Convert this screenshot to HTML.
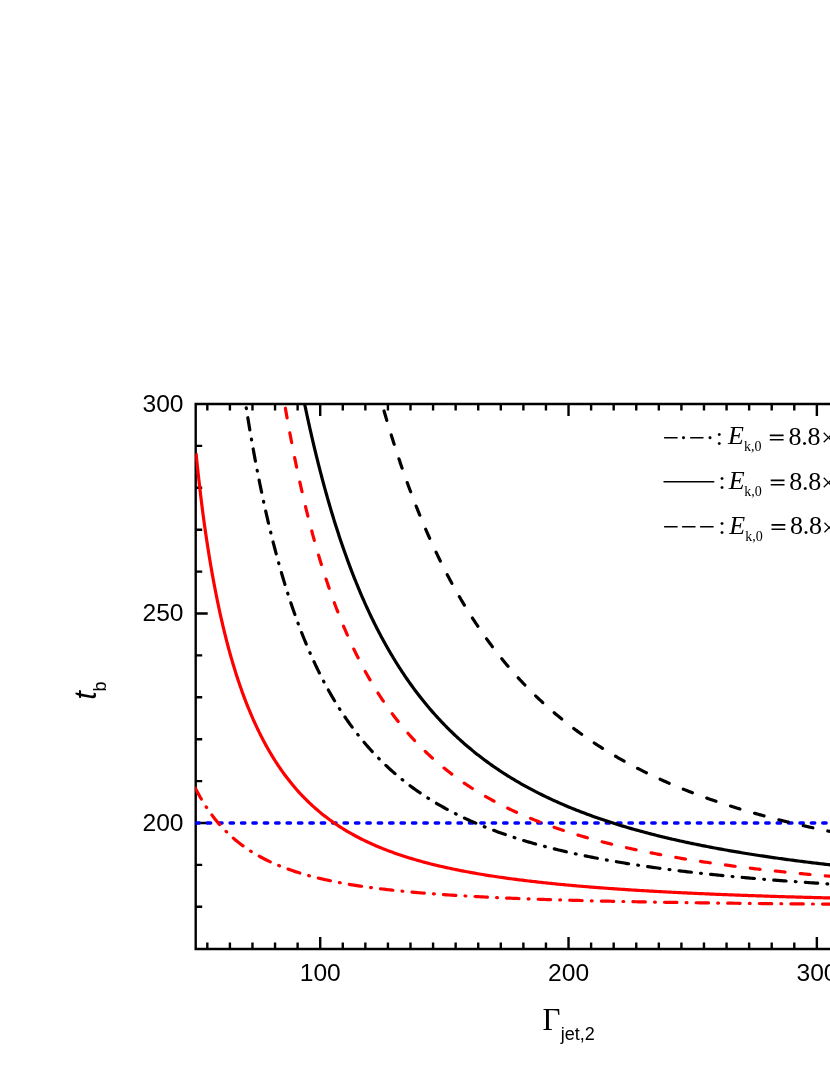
<!DOCTYPE html>
<html><head><meta charset="utf-8"><title>chart</title>
<style>
html,body{margin:0;padding:0;background:#fff;}
body{width:830px;height:1075px;overflow:hidden;position:relative;font-family:"Liberation Sans",sans-serif;}
svg{position:absolute;left:0;top:0;display:block;will-change:transform}
text{font-family:"Liberation Sans",sans-serif;fill:#000}
.ser{font-family:"Liberation Serif",serif}
</style></head><body>
<svg width="830" height="1075" viewBox="0 0 830 1075">
<defs><clipPath id="plot"><rect x="195.2" y="403" width="645" height="546"/></clipPath></defs>

<g stroke="#000" stroke-width="2.4" fill="none" stroke-linecap="butt">
<path d="M840 404 H195.7 V949 H840"/>
<path d="M207.32 404 v6.6 M207.32 949 v-6.6 M229.90 404 v6.6 M229.90 949 v-6.6 M252.47 404 v6.6 M252.47 949 v-6.6 M275.05 404 v6.6 M275.05 949 v-6.6 M297.62 404 v6.6 M297.62 949 v-6.6 M320.20 404 v12.0 M320.20 949 v-12.0 M342.78 404 v6.6 M342.78 949 v-6.6 M365.35 404 v6.6 M365.35 949 v-6.6 M387.93 404 v6.6 M387.93 949 v-6.6 M410.50 404 v6.6 M410.50 949 v-6.6 M433.08 404 v6.6 M433.08 949 v-6.6 M455.65 404 v6.6 M455.65 949 v-6.6 M478.23 404 v6.6 M478.23 949 v-6.6 M500.80 404 v6.6 M500.80 949 v-6.6 M523.38 404 v6.6 M523.38 949 v-6.6 M545.95 404 v6.6 M545.95 949 v-6.6 M568.53 404 v12.0 M568.53 949 v-12.0 M591.11 404 v6.6 M591.11 949 v-6.6 M613.68 404 v6.6 M613.68 949 v-6.6 M636.26 404 v6.6 M636.26 949 v-6.6 M658.83 404 v6.6 M658.83 949 v-6.6 M681.41 404 v6.6 M681.41 949 v-6.6 M703.98 404 v6.6 M703.98 949 v-6.6 M726.56 404 v6.6 M726.56 949 v-6.6 M749.13 404 v6.6 M749.13 949 v-6.6 M771.71 404 v6.6 M771.71 949 v-6.6 M794.28 404 v6.6 M794.28 949 v-6.6 M816.86 404 v12.0 M816.86 949 v-12.0 M839.44 404 v6.6 M839.44 949 v-6.6 M862.01 404 v6.6 M862.01 949 v-6.6 M195.7 906.80 h6.5 M195.7 864.90 h6.5 M195.7 823.00 h12.0 M195.7 781.10 h6.5 M195.7 739.20 h6.5 M195.7 697.30 h6.5 M195.7 655.40 h6.5 M195.7 613.50 h12.0 M195.7 571.60 h6.5 M195.7 529.70 h6.5 M195.7 487.80 h6.5 M195.7 445.90 h6.5" stroke-width="2.4"/>
</g>
<g clip-path="url(#plot)" fill="none" stroke-width="3.2" stroke-linejoin="round" stroke-linecap="round">
<path d="M196.1 823 H840" stroke="#0000ff" stroke-width="3.3" stroke-dasharray="3.5 7.897" stroke-dashoffset="0.25"/>
<path d="M194.75 787.05 L195.48 788.48 L196.22 789.90 L196.97 791.31 L197.73 792.73 L198.50 794.13 L199.28 795.53 L200.07 796.92 L200.87 798.31 L201.69 799.68 L202.51 801.06 L203.35 802.42 L204.20 803.78 L205.06 805.13 L205.94 806.47 L206.82 807.81 L207.72 809.13 L208.63 810.45 L209.55 811.76 L210.49 813.06 L211.43 814.35 L212.39 815.64 L213.37 816.91 L214.35 818.17 L215.35 819.42 L216.36 820.67 L217.38 821.90 L218.42 823.12 L219.47 824.33 L220.53 825.53 L221.61 826.72 L222.70 827.89 L223.80 829.05 L224.91 830.21 L226.04 831.35 L227.17 832.47 L228.33 833.59 L229.49 834.69 L230.66 835.77 L231.85 836.85 L233.05 837.91 L234.26 838.96 L235.49 839.99 L236.72 841.01 L237.97 842.02 L239.22 843.01 L240.49 843.99 L241.77 844.96 L243.06 845.91 L244.36 846.85 L245.67 847.77 L246.99 848.68 L248.31 849.57 L249.65 850.45 L251.00 851.32 L252.36 852.17 L253.72 853.01 L255.09 853.83 L256.47 854.65 L257.86 855.44 L259.26 856.23 L260.66 857.00 L262.08 857.76 L263.49 858.50 L264.92 859.23 L266.35 859.95 L267.79 860.65 L269.23 861.35 L270.68 862.03 L272.14 862.69 L273.60 863.35 L275.07 863.99 L276.54 864.63 L278.02 865.25 L279.50 865.86 L280.98 866.45 L282.47 867.04 L283.97 867.62 L285.47 868.18 L286.97 868.74 L288.48 869.28 L289.99 869.82 L291.50 870.34 L293.02 870.85 L294.54 871.36 L296.06 871.86 L297.59 872.34 L299.11 872.82 L300.65 873.29 L302.18 873.75 L303.72 874.20 L305.26 874.64 L306.80 875.08 L308.34 875.51 L309.89 875.92 L311.44 876.34 L312.99 876.74 L314.54 877.14 L316.09 877.53 L317.65 877.91 L319.20 878.29 L320.76 878.65 L322.32 879.02 L323.88 879.37 L325.45 879.72 L327.01 880.06 L328.58 880.40 L330.14 880.73 L331.71 881.06 L333.28 881.38 L334.85 881.69 L336.42 882.00 L338.00 882.30 L339.57 882.60 L341.15 882.90 L342.72 883.18 L344.30 883.47 L345.88 883.75 L347.45 884.02 L349.03 884.29 L350.61 884.55 L352.19 884.81 L353.77 885.07 L355.36 885.32 L356.94 885.57 L358.52 885.81 L360.11 886.05 L361.69 886.29 L363.27 886.52 L364.86 886.75 L366.45 886.97 L368.03 887.19 L369.62 887.41 L371.21 887.62 L372.79 887.83 L374.38 888.04 L375.97 888.24 L377.56 888.44 L379.15 888.64 L380.74 888.83 L382.33 889.03 L383.92 889.21 L385.51 889.40 L387.10 889.58 L388.70 889.76 L390.29 889.94 L391.88 890.12 L393.47 890.29 L395.06 890.46 L396.66 890.62 L398.25 890.79 L399.84 890.95 L401.44 891.11 L403.03 891.27 L404.63 891.42 L406.22 891.58 L407.82 891.73 L409.41 891.88 L411.01 892.02 L412.60 892.17 L414.20 892.31 L415.79 892.45 L417.39 892.59 L418.98 892.72 L420.58 892.86 L422.18 892.99 L423.77 893.12 L425.37 893.25 L426.97 893.38 L428.56 893.50 L430.16 893.63 L431.76 893.75 L433.35 893.87 L434.95 893.99 L436.55 894.11 L438.15 894.22 L439.74 894.34 L441.34 894.45 L442.94 894.56 L444.54 894.67 L446.13 894.78 L447.73 894.89 L449.33 894.99 L450.93 895.10 L452.53 895.20 L454.13 895.30 L455.73 895.40 L457.32 895.50 L458.92 895.60 L460.52 895.70 L462.12 895.79 L463.72 895.89 L465.32 895.98 L466.92 896.07 L468.52 896.16 L470.12 896.25 L471.72 896.34 L473.31 896.43 L474.91 896.51 L476.51 896.60 L478.11 896.68 L479.71 896.77 L481.31 896.85 L482.91 896.93 L484.51 897.01 L486.11 897.09 L487.71 897.17 L489.31 897.25 L490.91 897.32 L492.51 897.40 L494.11 897.47 L495.71 897.55 L497.31 897.62 L498.91 897.69 L500.51 897.77 L502.11 897.84 L503.71 897.91 L505.31 897.98 L506.91 898.04 L508.51 898.11 L510.11 898.18 L511.71 898.24 L513.31 898.31 L514.91 898.37 L516.51 898.44 L518.12 898.50 L519.72 898.56 L521.32 898.63 L522.92 898.69 L524.52 898.75 L526.12 898.81 L527.72 898.87 L529.32 898.93 L530.92 898.98 L532.52 899.04 L534.12 899.10 L535.72 899.15 L537.32 899.21 L538.92 899.27 L540.52 899.32 L542.13 899.37 L543.73 899.43 L545.33 899.48 L546.93 899.53 L548.53 899.58 L550.13 899.63 L551.73 899.69 L553.33 899.74 L554.93 899.79 L556.53 899.83 L558.14 899.88 L559.74 899.93 L561.34 899.98 L562.94 900.03 L564.54 900.07 L566.14 900.12 L567.74 900.16 L569.34 900.21 L570.94 900.25 L572.54 900.30 L574.15 900.34 L575.75 900.39 L577.35 900.43 L578.95 900.47 L580.55 900.51 L582.15 900.56 L583.75 900.60 L585.35 900.64 L586.96 900.68 L588.56 900.72 L590.16 900.76 L591.76 900.80 L593.36 900.84 L594.96 900.88 L596.56 900.92 L598.16 900.95 L599.77 900.99 L601.37 901.03 L602.97 901.07 L604.57 901.10 L606.17 901.14 L607.77 901.18 L609.37 901.21 L610.98 901.25 L612.58 901.28 L614.18 901.32 L615.78 901.35 L617.38 901.39 L618.98 901.42 L620.58 901.45 L622.18 901.49 L623.79 901.52 L625.39 901.55 L626.99 901.58 L628.59 901.62 L630.19 901.65 L631.79 901.68 L633.39 901.71 L635.00 901.74 L636.60 901.77 L638.20 901.80 L639.80 901.83 L641.40 901.86 L643.00 901.89 L644.61 901.92 L646.21 901.95 L647.81 901.98 L649.41 902.01 L651.01 902.04 L652.61 902.06 L654.21 902.09 L655.82 902.12 L657.42 902.15 L659.02 902.18 L660.62 902.20 L662.22 902.23 L663.82 902.26 L665.42 902.28 L667.03 902.31 L668.63 902.33 L670.23 902.36 L671.83 902.38 L673.43 902.41 L675.03 902.44 L676.64 902.46 L678.24 902.48 L679.84 902.51 L681.44 902.53 L683.04 902.56 L684.64 902.58 L686.24 902.60 L687.85 902.63 L689.45 902.65 L691.05 902.67 L692.65 902.70 L694.25 902.72 L695.85 902.74 L697.46 902.77 L699.06 902.79 L700.66 902.81 L702.26 902.83 L703.86 902.85 L705.46 902.87 L707.07 902.90 L708.67 902.92 L710.27 902.94 L711.87 902.96 L713.47 902.98 L715.07 903.00 L716.68 903.02 L718.28 903.04 L719.88 903.06 L721.48 903.08 L723.08 903.10 L724.68 903.12 L726.29 903.14 L727.89 903.16 L729.49 903.18 L731.09 903.20 L732.69 903.22 L734.29 903.24 L735.90 903.25 L737.50 903.27 L739.10 903.29 L740.70 903.31 L742.30 903.33 L743.90 903.35 L745.50 903.36 L747.11 903.38 L748.71 903.40 L750.31 903.42 L751.91 903.43 L753.51 903.45 L755.11 903.47 L756.72 903.48 L758.32 903.50 L759.92 903.52 L761.52 903.53 L763.12 903.55 L764.72 903.57 L766.33 903.58 L767.93 903.60 L769.53 903.62 L771.13 903.63 L772.73 903.65 L774.33 903.66 L775.94 903.68 L777.54 903.69 L779.14 903.71 L780.74 903.72 L782.34 903.74 L783.94 903.75 L785.55 903.77 L787.15 903.78 L788.75 903.80 L790.35 903.81 L791.95 903.83 L793.56 903.84 L795.16 903.86 L796.76 903.87 L798.36 903.88 L799.96 903.90 L801.56 903.91 L803.17 903.93 L804.77 903.94 L806.37 903.95 L807.97 903.97 L809.57 903.98 L811.17 903.99 L812.78 904.01 L814.38 904.02 L815.98 904.03 L817.58 904.05 L819.18 904.06 L820.78 904.07 L822.39 904.09 L823.99 904.10 L825.59 904.11 L827.19 904.12 L828.79 904.14 L830.39 904.15 L832.00 904.16 L833.60 904.17 L835.20 904.18 L836.00 904.19" stroke="#ff0000" stroke-dasharray="12.40 9.20 0.80 9.20" stroke-dashoffset="30.34"/>
<path d="M196.14 453.36 L196.28 454.95 L196.42 456.54 L196.57 458.14 L196.72 459.73 L196.87 461.32 L197.03 462.91 L197.19 464.51 L197.36 466.10 L197.53 467.69 L197.70 469.28 L197.87 470.87 L198.05 472.46 L198.22 474.05 L198.40 475.64 L198.58 477.23 L198.76 478.82 L198.94 480.41 L199.13 482.00 L199.31 483.59 L199.49 485.18 L199.68 486.77 L199.86 488.36 L200.04 489.95 L200.22 491.54 L200.41 493.13 L200.60 494.72 L200.78 496.30 L200.97 497.89 L201.17 499.48 L201.36 501.07 L201.55 502.66 L201.75 504.25 L201.95 505.83 L202.15 507.42 L202.35 509.01 L202.56 510.59 L202.77 512.18 L202.97 513.77 L203.18 515.35 L203.40 516.94 L203.61 518.53 L203.83 520.11 L204.04 521.70 L204.26 523.28 L204.48 524.87 L204.71 526.45 L204.93 528.03 L205.16 529.62 L205.38 531.20 L205.61 532.79 L205.85 534.37 L206.08 535.95 L206.31 537.53 L206.55 539.12 L206.79 540.70 L207.03 542.28 L207.27 543.86 L207.52 545.44 L207.76 547.02 L208.01 548.61 L208.26 550.19 L208.51 551.77 L208.76 553.35 L209.01 554.93 L209.27 556.51 L209.53 558.08 L209.79 559.66 L210.05 561.24 L210.32 562.82 L210.58 564.40 L210.85 565.97 L211.12 567.55 L211.40 569.13 L211.67 570.70 L211.95 572.28 L212.23 573.85 L212.52 575.43 L212.80 577.00 L213.09 578.58 L213.38 580.15 L213.68 581.72 L213.97 583.30 L214.27 584.87 L214.57 586.44 L214.87 588.01 L215.17 589.58 L215.48 591.15 L215.79 592.72 L216.10 594.29 L216.41 595.86 L216.72 597.43 L217.04 599.00 L217.36 600.57 L217.68 602.13 L218.01 603.70 L218.33 605.27 L218.66 606.83 L219.00 608.40 L219.33 609.96 L219.67 611.53 L220.01 613.09 L220.36 614.65 L220.70 616.21 L221.06 617.77 L221.41 619.33 L221.77 620.89 L222.13 622.45 L222.49 624.01 L222.86 625.57 L223.23 627.12 L223.60 628.68 L223.98 630.24 L224.35 631.79 L224.74 633.34 L225.12 634.90 L225.51 636.45 L225.90 638.00 L226.30 639.55 L226.69 641.10 L227.10 642.65 L227.50 644.20 L227.91 645.74 L228.32 647.29 L228.74 648.84 L229.16 650.38 L229.58 651.92 L230.01 653.46 L230.44 655.00 L230.88 656.54 L231.32 658.08 L231.77 659.62 L232.22 661.15 L232.67 662.69 L233.12 664.22 L233.59 665.75 L234.05 667.29 L234.52 668.82 L234.99 670.34 L235.47 671.87 L235.95 673.40 L236.43 674.92 L236.92 676.45 L237.42 677.97 L237.91 679.49 L238.42 681.01 L238.93 682.52 L239.44 684.04 L239.96 685.55 L240.48 687.07 L241.01 688.58 L241.54 690.08 L242.08 691.59 L242.63 693.10 L243.18 694.60 L243.73 696.10 L244.29 697.60 L244.86 699.09 L245.44 700.59 L246.01 702.08 L246.60 703.57 L247.19 705.05 L247.78 706.54 L248.38 708.02 L248.99 709.50 L249.60 710.98 L250.22 712.46 L250.84 713.93 L251.47 715.40 L252.10 716.87 L252.74 718.34 L253.39 719.80 L254.04 721.26 L254.70 722.72 L255.37 724.18 L256.04 725.63 L256.72 727.08 L257.40 728.52 L258.09 729.97 L258.79 731.41 L259.49 732.84 L260.21 734.28 L260.92 735.71 L261.65 737.13 L262.38 738.56 L263.12 739.97 L263.87 741.39 L264.62 742.80 L265.38 744.21 L266.15 745.61 L266.93 747.01 L267.71 748.41 L268.50 749.80 L269.30 751.18 L270.10 752.57 L270.92 753.94 L271.74 755.32 L272.57 756.68 L273.41 758.05 L274.26 759.40 L275.11 760.76 L275.97 762.10 L276.85 763.45 L277.73 764.78 L278.61 766.11 L279.51 767.44 L280.42 768.76 L281.33 770.07 L282.25 771.38 L283.18 772.68 L284.12 773.97 L285.07 775.26 L286.03 776.54 L287.00 777.82 L287.97 779.09 L288.96 780.35 L289.95 781.60 L290.95 782.85 L291.96 784.09 L292.98 785.32 L294.01 786.55 L295.05 787.76 L296.10 788.97 L297.16 790.18 L298.22 791.37 L299.30 792.55 L300.38 793.73 L301.47 794.90 L302.57 796.06 L303.69 797.21 L304.80 798.36 L305.93 799.49 L307.07 800.62 L308.22 801.73 L309.37 802.84 L310.53 803.94 L311.71 805.03 L312.89 806.11 L314.08 807.18 L315.27 808.24 L316.48 809.29 L317.69 810.33 L318.92 811.36 L320.15 812.39 L321.39 813.40 L322.63 814.40 L323.89 815.40 L325.15 816.38 L326.42 817.35 L327.70 818.32 L328.98 819.27 L330.27 820.21 L331.57 821.15 L332.88 822.07 L334.19 822.99 L335.51 823.89 L336.84 824.78 L338.17 825.67 L339.51 826.54 L340.86 827.41 L342.21 828.26 L343.57 829.10 L344.94 829.94 L346.31 830.76 L347.69 831.58 L349.07 832.38 L350.46 833.18 L351.85 833.96 L353.25 834.74 L354.65 835.51 L356.06 836.26 L357.48 837.01 L358.90 837.75 L360.32 838.48 L361.75 839.20 L363.18 839.91 L364.62 840.61 L366.06 841.31 L367.51 841.99 L368.96 842.67 L370.41 843.33 L371.87 843.99 L373.33 844.64 L374.80 845.28 L376.27 845.92 L377.74 846.54 L379.22 847.16 L380.70 847.77 L382.18 848.37 L383.67 848.96 L385.16 849.55 L386.65 850.12 L388.14 850.69 L389.64 851.26 L391.14 851.81 L392.65 852.36 L394.15 852.90 L395.66 853.43 L397.17 853.96 L398.68 854.48 L400.20 854.99 L401.72 855.50 L403.24 855.99 L404.76 856.49 L406.29 856.97 L407.81 857.45 L409.34 857.93 L410.87 858.39 L412.40 858.85 L413.94 859.31 L415.47 859.76 L417.01 860.20 L418.55 860.64 L420.09 861.07 L421.63 861.50 L423.18 861.92 L424.72 862.33 L426.27 862.74 L427.81 863.15 L429.36 863.55 L430.91 863.94 L432.47 864.33 L434.02 864.71 L435.57 865.09 L437.13 865.47 L438.69 865.84 L440.24 866.20 L441.80 866.56 L443.36 866.92 L444.92 867.27 L446.49 867.62 L448.05 867.96 L449.61 868.30 L451.18 868.63 L452.74 868.97 L454.31 869.29 L455.88 869.61 L457.44 869.93 L459.01 870.25 L460.58 870.56 L462.15 870.86 L463.72 871.17 L465.30 871.47 L466.87 871.76 L468.44 872.05 L470.02 872.34 L471.59 872.63 L473.17 872.91 L474.74 873.19 L476.32 873.46 L477.89 873.73 L479.47 874.00 L481.05 874.27 L482.63 874.53 L484.21 874.79 L485.79 875.05 L487.37 875.30 L488.95 875.55 L490.53 875.80 L492.11 876.04 L493.69 876.28 L495.27 876.52 L496.85 876.76 L498.44 876.99 L500.02 877.22 L501.60 877.45 L503.19 877.68 L504.77 877.90 L506.36 878.12 L507.94 878.34 L509.53 878.56 L511.11 878.77 L512.70 878.98 L514.28 879.19 L515.87 879.40 L517.46 879.60 L519.05 879.80 L520.63 880.00 L522.22 880.20 L523.81 880.40 L525.40 880.59 L526.99 880.78 L528.57 880.97 L530.16 881.16 L531.75 881.35 L533.34 881.53 L534.93 881.71 L536.52 881.89 L538.11 882.07 L539.70 882.25 L541.29 882.42 L542.88 882.59 L544.47 882.76 L546.07 882.93 L547.66 883.10 L549.25 883.26 L550.84 883.43 L552.43 883.59 L554.02 883.75 L555.62 883.91 L557.21 884.07 L558.80 884.22 L560.39 884.38 L561.99 884.53 L563.58 884.68 L565.17 884.83 L566.76 884.98 L568.36 885.12 L569.95 885.27 L571.54 885.41 L573.14 885.56 L574.73 885.70 L576.33 885.84 L577.92 885.97 L579.51 886.11 L581.11 886.25 L582.70 886.38 L584.30 886.51 L585.89 886.65 L587.49 886.78 L589.08 886.91 L590.68 887.03 L592.27 887.16 L593.87 887.29 L595.46 887.41 L597.06 887.53 L598.65 887.66 L600.25 887.78 L601.84 887.90 L603.44 888.02 L605.03 888.14 L606.63 888.25 L608.23 888.37 L609.82 888.48 L611.42 888.60 L613.01 888.71 L614.61 888.82 L616.21 888.93 L617.80 889.04 L619.40 889.15 L620.99 889.26 L622.59 889.36 L624.19 889.47 L625.78 889.57 L627.38 889.68 L628.98 889.78 L630.57 889.88 L632.17 889.98 L633.77 890.08 L635.37 890.18 L636.96 890.28 L638.56 890.38 L640.16 890.48 L641.75 890.57 L643.35 890.67 L644.95 890.76 L646.55 890.86 L648.14 890.95 L649.74 891.04 L651.34 891.13 L652.93 891.22 L654.53 891.31 L656.13 891.40 L657.73 891.49 L659.32 891.58 L660.92 891.67 L662.52 891.75 L664.12 891.84 L665.72 891.92 L667.31 892.01 L668.91 892.09 L670.51 892.17 L672.11 892.25 L673.71 892.34 L675.30 892.42 L676.90 892.50 L678.50 892.58 L680.10 892.65 L681.70 892.73 L683.29 892.81 L684.89 892.89 L686.49 892.96 L688.09 893.04 L689.69 893.11 L691.28 893.19 L692.88 893.26 L694.48 893.34 L696.08 893.41 L697.68 893.48 L699.28 893.55 L700.87 893.62 L702.47 893.69 L704.07 893.76 L705.67 893.83 L707.27 893.90 L708.87 893.97 L710.47 894.04 L712.06 894.11 L713.66 894.17 L715.26 894.24 L716.86 894.31 L718.46 894.37 L720.06 894.44 L721.66 894.50 L723.26 894.56 L724.85 894.63 L726.45 894.69 L728.05 894.75 L729.65 894.82 L731.25 894.88 L732.85 894.94 L734.45 895.00 L736.05 895.06 L737.64 895.12 L739.24 895.18 L740.84 895.24 L742.44 895.30 L744.04 895.35 L745.64 895.41 L747.24 895.47 L748.84 895.53 L750.44 895.58 L752.04 895.64 L753.63 895.70 L755.23 895.75 L756.83 895.81 L758.43 895.86 L760.03 895.91 L761.63 895.97 L763.23 896.02 L764.83 896.07 L766.43 896.13 L768.03 896.18 L769.63 896.23 L771.23 896.28 L772.82 896.33 L774.42 896.38 L776.02 896.44 L777.62 896.49 L779.22 896.54 L780.82 896.58 L782.42 896.63 L784.02 896.68 L785.62 896.73 L787.22 896.78 L788.82 896.83 L790.42 896.87 L792.02 896.92 L793.61 896.97 L795.21 897.02 L796.81 897.06 L798.41 897.11 L800.01 897.15 L801.61 897.20 L803.21 897.24 L804.81 897.29 L806.41 897.33 L808.01 897.38 L809.61 897.42 L811.21 897.46 L812.81 897.51 L814.41 897.55 L816.01 897.59 L817.61 897.64 L819.21 897.68 L820.80 897.72 L822.40 897.76 L824.00 897.80 L825.60 897.84 L827.20 897.89 L828.80 897.93 L830.40 897.97 L832.00 898.01 L833.60 898.05 L835.20 898.09 L836.00 898.11" stroke="#ff0000" stroke-linecap="butt"/>
<path d="M245.61 404.00 L245.86 405.58 L246.11 407.16 L246.36 408.74 L246.61 410.32 L246.86 411.90 L247.12 413.48 L247.37 415.06 L247.63 416.64 L247.89 418.22 L248.15 419.80 L248.41 421.38 L248.67 422.95 L248.93 424.53 L249.20 426.11 L249.46 427.69 L249.73 429.27 L250.00 430.84 L250.27 432.42 L250.54 434.00 L250.81 435.57 L251.08 437.15 L251.36 438.73 L251.64 440.30 L251.91 441.88 L252.19 443.45 L252.47 445.03 L252.75 446.60 L253.04 448.18 L253.32 449.75 L253.61 451.33 L253.90 452.90 L254.18 454.48 L254.48 456.05 L254.77 457.62 L255.06 459.20 L255.36 460.77 L255.65 462.34 L255.95 463.91 L256.25 465.48 L256.55 467.06 L256.85 468.63 L257.16 470.20 L257.46 471.77 L257.77 473.34 L258.08 474.91 L258.39 476.48 L258.70 478.05 L259.02 479.62 L259.33 481.19 L259.65 482.75 L259.97 484.32 L260.29 485.89 L260.61 487.46 L260.94 489.02 L261.26 490.59 L261.59 492.16 L261.92 493.72 L262.25 495.29 L262.58 496.85 L262.92 498.42 L263.26 499.98 L263.59 501.54 L263.93 503.11 L264.28 504.67 L264.62 506.23 L264.97 507.79 L265.32 509.36 L265.67 510.92 L266.02 512.48 L266.37 514.04 L266.73 515.60 L267.09 517.16 L267.45 518.72 L267.81 520.28 L268.17 521.83 L268.54 523.39 L268.91 524.95 L269.28 526.50 L269.65 528.06 L270.03 529.62 L270.41 531.17 L270.79 532.72 L271.17 534.28 L271.55 535.83 L271.94 537.38 L272.33 538.94 L272.72 540.49 L273.11 542.04 L273.51 543.59 L273.91 545.14 L274.31 546.69 L274.71 548.24 L275.12 549.78 L275.52 551.33 L275.94 552.88 L276.35 554.42 L276.76 555.97 L277.18 557.51 L277.60 559.06 L278.03 560.60 L278.45 562.14 L278.88 563.68 L279.31 565.22 L279.75 566.76 L280.18 568.30 L280.62 569.84 L281.07 571.38 L281.51 572.92 L281.96 574.45 L282.41 575.99 L282.86 577.52 L283.32 579.06 L283.78 580.59 L284.24 582.12 L284.71 583.65 L285.18 585.18 L285.65 586.71 L286.13 588.24 L286.60 589.76 L287.09 591.29 L287.57 592.81 L288.06 594.34 L288.55 595.86 L289.04 597.38 L289.54 598.90 L290.04 600.42 L290.55 601.94 L291.06 603.46 L291.57 604.97 L292.08 606.49 L292.60 608.00 L293.12 609.52 L293.65 611.03 L294.18 612.54 L294.71 614.05 L295.24 615.55 L295.78 617.06 L296.33 618.56 L296.88 620.07 L297.43 621.57 L297.98 623.07 L298.54 624.57 L299.11 626.07 L299.67 627.56 L300.24 629.06 L300.82 630.55 L301.40 632.04 L301.98 633.53 L302.57 635.02 L303.16 636.51 L303.76 637.99 L304.36 639.48 L304.96 640.96 L305.57 642.44 L306.18 643.91 L306.80 645.39 L307.42 646.87 L308.05 648.34 L308.68 649.81 L309.32 651.28 L309.96 652.74 L310.60 654.21 L311.25 655.67 L311.91 657.13 L312.57 658.59 L313.23 660.04 L313.90 661.50 L314.57 662.95 L315.25 664.40 L315.94 665.84 L316.62 667.29 L317.32 668.73 L318.02 670.17 L318.72 671.60 L319.43 673.04 L320.15 674.47 L320.87 675.90 L321.59 677.32 L322.32 678.75 L323.06 680.17 L323.80 681.59 L324.55 683.00 L325.30 684.41 L326.06 685.82 L326.83 687.23 L327.60 688.63 L328.37 690.03 L329.15 691.42 L329.94 692.82 L330.73 694.21 L331.53 695.59 L332.34 696.98 L333.15 698.36 L333.96 699.73 L334.79 701.10 L335.61 702.47 L336.45 703.84 L337.29 705.20 L338.14 706.56 L338.99 707.91 L339.85 709.26 L340.72 710.60 L341.59 711.95 L342.47 713.28 L343.35 714.62 L344.24 715.94 L345.14 717.27 L346.05 718.59 L346.96 719.90 L347.87 721.22 L348.80 722.52 L349.73 723.82 L350.67 725.12 L351.61 726.41 L352.56 727.70 L353.52 728.98 L354.48 730.26 L355.45 731.53 L356.43 732.80 L357.41 734.06 L358.40 735.32 L359.40 736.57 L360.40 737.82 L361.41 739.06 L362.43 740.29 L363.45 741.52 L364.48 742.75 L365.52 743.97 L366.56 745.18 L367.61 746.39 L368.67 747.59 L369.73 748.78 L370.80 749.97 L371.88 751.15 L372.97 752.33 L374.06 753.50 L375.15 754.66 L376.26 755.82 L377.37 756.97 L378.49 758.12 L379.61 759.26 L380.74 760.39 L381.88 761.52 L383.02 762.64 L384.17 763.75 L385.33 764.85 L386.49 765.95 L387.66 767.04 L388.84 768.13 L390.02 769.21 L391.21 770.28 L392.40 771.34 L393.60 772.40 L394.81 773.45 L396.02 774.50 L397.24 775.53 L398.47 776.56 L399.70 777.58 L400.93 778.60 L402.18 779.61 L403.42 780.61 L404.68 781.60 L405.94 782.59 L407.20 783.57 L408.48 784.54 L409.75 785.50 L411.03 786.46 L412.32 787.41 L413.62 788.35 L414.91 789.29 L416.22 790.21 L417.53 791.13 L418.84 792.05 L420.16 792.95 L421.48 793.85 L422.81 794.74 L424.15 795.63 L425.48 796.50 L426.83 797.37 L428.18 798.23 L429.53 799.09 L430.89 799.94 L432.25 800.78 L433.61 801.61 L434.98 802.44 L436.36 803.26 L437.74 804.07 L439.12 804.87 L440.51 805.67 L441.90 806.46 L443.29 807.24 L444.69 808.02 L446.09 808.79 L447.50 809.55 L448.91 810.31 L450.33 811.06 L451.74 811.80 L453.16 812.53 L454.59 813.26 L456.02 813.98 L457.45 814.70 L458.88 815.41 L460.32 816.11 L461.76 816.81 L463.21 817.49 L464.65 818.18 L466.10 818.85 L467.56 819.52 L469.01 820.19 L470.47 820.84 L471.93 821.49 L473.40 822.14 L474.86 822.78 L476.33 823.41 L477.81 824.04 L479.28 824.66 L480.76 825.27 L482.24 825.88 L483.72 826.48 L485.20 827.08 L486.69 827.67 L488.18 828.26 L489.67 828.84 L491.16 829.41 L492.66 829.98 L494.16 830.55 L495.66 831.11 L497.16 831.66 L498.66 832.21 L500.17 832.75 L501.67 833.29 L503.18 833.82 L504.69 834.34 L506.21 834.87 L507.72 835.38 L509.24 835.89 L510.75 836.40 L512.27 836.90 L513.79 837.40 L515.32 837.89 L516.84 838.38 L518.37 838.86 L519.89 839.34 L521.42 839.82 L522.95 840.29 L524.48 840.75 L526.01 841.21 L527.55 841.67 L529.08 842.12 L530.62 842.56 L532.16 843.01 L533.70 843.45 L535.23 843.88 L536.78 844.31 L538.32 844.74 L539.86 845.16 L541.41 845.58 L542.95 845.99 L544.50 846.40 L546.05 846.81 L547.59 847.21 L549.14 847.61 L550.69 848.01 L552.24 848.40 L553.80 848.79 L555.35 849.17 L556.90 849.55 L558.46 849.93 L560.02 850.30 L561.57 850.67 L563.13 851.04 L564.69 851.40 L566.25 851.76 L567.81 852.12 L569.37 852.47 L570.93 852.83 L572.49 853.17 L574.05 853.52 L575.62 853.86 L577.18 854.19 L578.74 854.53 L580.31 854.86 L581.88 855.19 L583.44 855.52 L585.01 855.84 L586.58 856.16 L588.15 856.47 L589.71 856.79 L591.28 857.10 L592.85 857.41 L594.42 857.71 L596.00 858.02 L597.57 858.32 L599.14 858.62 L600.71 858.91 L602.28 859.20 L603.86 859.49 L605.43 859.78 L607.01 860.06 L608.58 860.35 L610.16 860.63 L611.73 860.90 L613.31 861.18 L614.89 861.45 L616.46 861.72 L618.04 861.99 L619.62 862.26 L621.20 862.52 L622.77 862.78 L624.35 863.04 L625.93 863.30 L627.51 863.55 L629.09 863.80 L630.67 864.05 L632.25 864.30 L633.83 864.55 L635.42 864.79 L637.00 865.03 L638.58 865.27 L640.16 865.51 L641.74 865.75 L643.33 865.98 L644.91 866.21 L646.49 866.44 L648.08 866.67 L649.66 866.90 L651.25 867.12 L652.83 867.34 L654.42 867.57 L656.00 867.78 L657.59 868.00 L659.17 868.22 L660.76 868.43 L662.34 868.64 L663.93 868.85 L665.51 869.06 L667.10 869.27 L668.69 869.47 L670.28 869.68 L671.86 869.88 L673.45 870.08 L675.04 870.28 L676.63 870.48 L678.21 870.67 L679.80 870.87 L681.39 871.06 L682.98 871.25 L684.57 871.44 L686.16 871.63 L687.75 871.81 L689.33 872.00 L690.92 872.18 L692.51 872.36 L694.10 872.55 L695.69 872.72 L697.28 872.90 L698.87 873.08 L700.46 873.26 L702.05 873.43 L703.65 873.60 L705.24 873.77 L706.83 873.94 L708.42 874.11 L710.01 874.28 L711.60 874.45 L713.19 874.61 L714.78 874.78 L716.38 874.94 L717.97 875.10 L719.56 875.26 L721.15 875.42 L722.74 875.58 L724.34 875.73 L725.93 875.89 L727.52 876.04 L729.11 876.20 L730.71 876.35 L732.30 876.50 L733.89 876.65 L735.49 876.80 L737.08 876.95 L738.67 877.09 L740.27 877.24 L741.86 877.38 L743.45 877.53 L745.05 877.67 L746.64 877.81 L748.23 877.95 L749.83 878.09 L751.42 878.23 L753.02 878.37 L754.61 878.50 L756.20 878.64 L757.80 878.77 L759.39 878.91 L760.99 879.04 L762.58 879.17 L764.18 879.30 L765.77 879.43 L767.37 879.56 L768.96 879.69 L770.56 879.82 L772.15 879.94 L773.75 880.07 L775.34 880.19 L776.94 880.32 L778.53 880.44 L780.13 880.56 L781.72 880.68 L783.32 880.80 L784.91 880.92 L786.51 881.04 L788.11 881.16 L789.70 881.28 L791.30 881.39 L792.89 881.51 L794.49 881.62 L796.09 881.74 L797.68 881.85 L799.28 881.97 L800.87 882.08 L802.47 882.19 L804.07 882.30 L805.66 882.41 L807.26 882.52 L808.85 882.63 L810.45 882.73 L812.05 882.84 L813.64 882.95 L815.24 883.05 L816.84 883.16 L818.43 883.26 L820.03 883.36 L821.63 883.47 L823.22 883.57 L824.82 883.67 L826.42 883.77 L828.01 883.87 L829.61 883.97 L831.21 884.07 L832.81 884.17 L834.40 884.26 L836.00 884.36" stroke="#000" stroke-dasharray="12.40 9.25 0.80 9.25" stroke-dashoffset="17.80"/>
<path d="M284.65 404.00 L284.92 405.58 L285.19 407.15 L285.46 408.73 L285.73 410.31 L286.01 411.88 L286.29 413.46 L286.57 415.04 L286.85 416.61 L287.13 418.19 L287.41 419.76 L287.69 421.34 L287.98 422.91 L288.26 424.49 L288.55 426.06 L288.84 427.64 L289.13 429.21 L289.42 430.78 L289.72 432.36 L290.01 433.93 L290.31 435.50 L290.61 437.07 L290.91 438.65 L291.21 440.22 L291.51 441.79 L291.81 443.36 L292.12 444.93 L292.42 446.50 L292.73 448.07 L293.04 449.64 L293.35 451.21 L293.67 452.78 L293.98 454.35 L294.30 455.92 L294.62 457.49 L294.94 459.06 L295.26 460.62 L295.58 462.19 L295.91 463.76 L296.23 465.32 L296.56 466.89 L296.89 468.46 L297.22 470.02 L297.56 471.59 L297.89 473.15 L298.23 474.72 L298.57 476.28 L298.91 477.84 L299.25 479.41 L299.59 480.97 L299.94 482.53 L300.29 484.10 L300.64 485.66 L300.99 487.22 L301.34 488.78 L301.70 490.34 L302.06 491.90 L302.42 493.46 L302.78 495.02 L303.14 496.58 L303.51 498.13 L303.88 499.69 L304.24 501.25 L304.62 502.80 L304.99 504.36 L305.37 505.92 L305.74 507.47 L306.12 509.03 L306.51 510.58 L306.89 512.13 L307.28 513.69 L307.67 515.24 L308.06 516.79 L308.45 518.34 L308.85 519.89 L309.25 521.44 L309.65 522.99 L310.05 524.54 L310.45 526.09 L310.86 527.64 L311.27 529.18 L311.68 530.73 L312.10 532.28 L312.51 533.82 L312.93 535.36 L313.36 536.91 L313.78 538.45 L314.21 539.99 L314.64 541.54 L315.07 543.08 L315.51 544.62 L315.94 546.16 L316.38 547.69 L316.83 549.23 L317.27 550.77 L317.72 552.31 L318.17 553.84 L318.62 555.38 L319.08 556.91 L319.54 558.44 L320.00 559.97 L320.47 561.51 L320.94 563.04 L321.41 564.57 L321.88 566.09 L322.36 567.62 L322.84 569.15 L323.32 570.67 L323.81 572.20 L324.30 573.72 L324.79 575.24 L325.29 576.77 L325.79 578.29 L326.29 579.81 L326.79 581.32 L327.30 582.84 L327.81 584.36 L328.33 585.87 L328.85 587.39 L329.37 588.90 L329.89 590.41 L330.42 591.92 L330.95 593.43 L331.49 594.94 L332.03 596.45 L332.57 597.95 L333.12 599.46 L333.67 600.96 L334.22 602.46 L334.78 603.96 L335.34 605.46 L335.91 606.96 L336.47 608.45 L337.05 609.95 L337.62 611.44 L338.20 612.93 L338.79 614.42 L339.38 615.91 L339.97 617.40 L340.56 618.88 L341.16 620.36 L341.77 621.85 L342.38 623.33 L342.99 624.81 L343.61 626.28 L344.23 627.76 L344.85 629.23 L345.48 630.70 L346.12 632.17 L346.76 633.64 L347.40 635.10 L348.05 636.57 L348.70 638.03 L349.36 639.49 L350.02 640.94 L350.68 642.40 L351.35 643.85 L352.03 645.30 L352.71 646.75 L353.39 648.20 L354.08 649.64 L354.78 651.09 L355.47 652.53 L356.18 653.96 L356.89 655.40 L357.60 656.83 L358.32 658.26 L359.04 659.69 L359.77 661.11 L360.51 662.53 L361.25 663.95 L361.99 665.37 L362.74 666.78 L363.50 668.19 L364.26 669.60 L365.02 671.01 L365.79 672.41 L366.57 673.81 L367.35 675.20 L368.14 676.60 L368.93 677.99 L369.73 679.37 L370.54 680.76 L371.35 682.14 L372.16 683.52 L372.98 684.89 L373.81 686.26 L374.64 687.63 L375.48 688.99 L376.33 690.35 L377.18 691.70 L378.03 693.06 L378.89 694.40 L379.76 695.75 L380.64 697.09 L381.52 698.43 L382.40 699.76 L383.29 701.09 L384.19 702.41 L385.10 703.73 L386.01 705.05 L386.92 706.36 L387.85 707.67 L388.77 708.97 L389.71 710.27 L390.65 711.57 L391.60 712.85 L392.55 714.14 L393.51 715.42 L394.48 716.70 L395.45 717.97 L396.43 719.23 L397.41 720.50 L398.40 721.75 L399.40 723.00 L400.41 724.25 L401.42 725.49 L402.43 726.73 L403.46 727.96 L404.48 729.18 L405.52 730.40 L406.56 731.62 L407.61 732.83 L408.66 734.03 L409.73 735.23 L410.79 736.42 L411.87 737.61 L412.95 738.79 L414.03 739.96 L415.12 741.13 L416.22 742.30 L417.33 743.46 L418.44 744.61 L419.56 745.75 L420.68 746.89 L421.81 748.03 L422.95 749.15 L424.09 750.27 L425.23 751.39 L426.39 752.50 L427.55 753.60 L428.71 754.70 L429.89 755.79 L431.06 756.87 L432.25 757.95 L433.44 759.02 L434.63 760.08 L435.83 761.14 L437.04 762.19 L438.25 763.23 L439.47 764.27 L440.70 765.30 L441.93 766.33 L443.16 767.34 L444.40 768.36 L445.65 769.36 L446.90 770.36 L448.16 771.35 L449.42 772.33 L450.69 773.31 L451.96 774.28 L453.24 775.24 L454.52 776.20 L455.81 777.15 L457.10 778.09 L458.40 779.03 L459.70 779.96 L461.01 780.88 L462.32 781.79 L463.64 782.70 L464.96 783.61 L466.29 784.50 L467.62 785.39 L468.95 786.27 L470.29 787.15 L471.64 788.01 L472.99 788.88 L474.34 789.73 L475.70 790.58 L477.06 791.42 L478.42 792.25 L479.79 793.08 L481.17 793.90 L482.55 794.72 L483.93 795.52 L485.31 796.33 L486.70 797.12 L488.09 797.91 L489.49 798.69 L490.89 799.47 L492.29 800.24 L493.70 801.00 L495.11 801.75 L496.53 802.50 L497.94 803.25 L499.36 803.98 L500.79 804.71 L502.21 805.44 L503.64 806.16 L505.08 806.87 L506.51 807.58 L507.95 808.28 L509.39 808.97 L510.84 809.66 L512.29 810.34 L513.74 811.02 L515.19 811.69 L516.65 812.35 L518.10 813.01 L519.57 813.66 L521.03 814.31 L522.50 814.95 L523.96 815.59 L525.43 816.22 L526.91 816.84 L528.38 817.46 L529.86 818.08 L531.34 818.68 L532.82 819.29 L534.31 819.88 L535.80 820.48 L537.28 821.06 L538.77 821.65 L540.27 822.22 L541.76 822.80 L543.26 823.36 L544.76 823.92 L546.26 824.48 L547.76 825.03 L549.26 825.58 L550.77 826.12 L552.28 826.66 L553.79 827.19 L555.30 827.72 L556.81 828.24 L558.32 828.76 L559.84 829.27 L561.36 829.78 L562.88 830.29 L564.40 830.79 L565.92 831.28 L567.44 831.78 L568.96 832.26 L570.49 832.75 L572.02 833.22 L573.55 833.70 L575.08 834.17 L576.61 834.63 L578.14 835.10 L579.67 835.55 L581.21 836.01 L582.74 836.46 L584.28 836.90 L585.82 837.35 L587.36 837.79 L588.90 838.22 L590.44 838.65 L591.98 839.08 L593.52 839.50 L595.07 839.92 L596.61 840.34 L598.16 840.75 L599.71 841.16 L601.25 841.56 L602.80 841.97 L604.35 842.36 L605.90 842.76 L607.46 843.15 L609.01 843.54 L610.56 843.92 L612.12 844.30 L613.67 844.68 L615.23 845.06 L616.78 845.43 L618.34 845.80 L619.90 846.17 L621.46 846.53 L623.02 846.89 L624.58 847.24 L626.14 847.60 L627.70 847.95 L629.26 848.30 L630.82 848.64 L632.39 848.98 L633.95 849.32 L635.52 849.66 L637.08 849.99 L638.65 850.32 L640.21 850.65 L641.78 850.98 L643.35 851.30 L644.92 851.62 L646.48 851.94 L648.05 852.25 L649.62 852.56 L651.19 852.87 L652.76 853.18 L654.33 853.48 L655.91 853.79 L657.48 854.09 L659.05 854.38 L660.62 854.68 L662.20 854.97 L663.77 855.26 L665.34 855.55 L666.92 855.83 L668.49 856.12 L670.07 856.40 L671.65 856.68 L673.22 856.96 L674.80 857.23 L676.38 857.50 L677.95 857.77 L679.53 858.04 L681.11 858.31 L682.69 858.57 L684.27 858.83 L685.84 859.09 L687.42 859.35 L689.00 859.61 L690.58 859.86 L692.16 860.11 L693.75 860.36 L695.33 860.61 L696.91 860.86 L698.49 861.10 L700.07 861.34 L701.65 861.58 L703.24 861.82 L704.82 862.06 L706.40 862.29 L707.98 862.53 L709.57 862.76 L711.15 862.99 L712.74 863.22 L714.32 863.44 L715.90 863.67 L717.49 863.89 L719.07 864.11 L720.66 864.33 L722.24 864.55 L723.83 864.77 L725.42 864.98 L727.00 865.20 L728.59 865.41 L730.17 865.62 L731.76 865.83 L733.35 866.04 L734.93 866.24 L736.52 866.45 L738.11 866.65 L739.70 866.85 L741.28 867.05 L742.87 867.25 L744.46 867.45 L746.05 867.64 L747.64 867.84 L749.23 868.03 L750.82 868.22 L752.40 868.41 L753.99 868.60 L755.58 868.79 L757.17 868.97 L758.76 869.16 L760.35 869.34 L761.94 869.52 L763.53 869.71 L765.12 869.88 L766.71 870.06 L768.30 870.24 L769.89 870.42 L771.48 870.59 L773.07 870.77 L774.67 870.94 L776.26 871.11 L777.85 871.28 L779.44 871.45 L781.03 871.62 L782.62 871.78 L784.21 871.95 L785.81 872.11 L787.40 872.28 L788.99 872.44 L790.58 872.60 L792.17 872.76 L793.77 872.92 L795.36 873.08 L796.95 873.23 L798.55 873.39 L800.14 873.54 L801.73 873.70 L803.32 873.85 L804.92 874.00 L806.51 874.15 L808.10 874.30 L809.70 874.45 L811.29 874.60 L812.88 874.75 L814.48 874.89 L816.07 875.04 L817.67 875.18 L819.26 875.33 L820.85 875.47 L822.45 875.61 L824.04 875.75 L825.64 875.89 L827.23 876.03 L828.82 876.17 L830.42 876.30 L832.01 876.44 L833.61 876.57 L835.20 876.71 L836.00 876.77" stroke="#ff0000" stroke-dasharray="9.80 15.31" stroke-dashoffset="20.82"/>
<path d="M304.63 404.00 L304.96 405.57 L305.29 407.13 L305.62 408.70 L305.95 410.27 L306.28 411.83 L306.62 413.40 L306.95 414.97 L307.29 416.53 L307.63 418.10 L307.97 419.66 L308.32 421.23 L308.66 422.79 L309.01 424.35 L309.35 425.92 L309.70 427.48 L310.05 429.04 L310.41 430.60 L310.76 432.17 L311.12 433.73 L311.47 435.29 L311.83 436.85 L312.19 438.41 L312.56 439.97 L312.92 441.53 L313.29 443.09 L313.65 444.65 L314.02 446.20 L314.40 447.76 L314.77 449.32 L315.14 450.88 L315.52 452.43 L315.90 453.99 L316.28 455.54 L316.66 457.10 L317.05 458.65 L317.43 460.21 L317.82 461.76 L318.21 463.32 L318.60 464.87 L319.00 466.42 L319.39 467.97 L319.79 469.52 L320.19 471.07 L320.59 472.62 L321.00 474.17 L321.40 475.72 L321.81 477.27 L322.22 478.82 L322.64 480.37 L323.05 481.91 L323.47 483.46 L323.89 485.01 L324.31 486.55 L324.73 488.10 L325.15 489.64 L325.58 491.18 L326.01 492.72 L326.44 494.27 L326.88 495.81 L327.32 497.35 L327.75 498.89 L328.20 500.43 L328.64 501.97 L329.09 503.51 L329.53 505.04 L329.98 506.58 L330.44 508.12 L330.89 509.65 L331.35 511.19 L331.81 512.72 L332.27 514.25 L332.74 515.78 L333.21 517.32 L333.68 518.85 L334.15 520.38 L334.63 521.91 L335.11 523.43 L335.59 524.96 L336.07 526.49 L336.56 528.01 L337.05 529.54 L337.54 531.06 L338.03 532.59 L338.53 534.11 L339.03 535.63 L339.53 537.15 L340.04 538.67 L340.55 540.19 L341.06 541.71 L341.57 543.22 L342.09 544.74 L342.61 546.25 L343.13 547.77 L343.66 549.28 L344.19 550.79 L344.72 552.30 L345.26 553.81 L345.80 555.32 L346.34 556.83 L346.88 558.33 L347.43 559.84 L347.98 561.34 L348.53 562.84 L349.09 564.34 L349.65 565.84 L350.22 567.34 L350.78 568.84 L351.35 570.34 L351.93 571.83 L352.50 573.33 L353.09 574.82 L353.67 576.31 L354.26 577.80 L354.85 579.29 L355.44 580.77 L356.04 582.26 L356.64 583.74 L357.25 585.23 L357.86 586.71 L358.47 588.19 L359.09 589.66 L359.71 591.14 L360.33 592.62 L360.96 594.09 L361.59 595.56 L362.22 597.03 L362.86 598.50 L363.51 599.97 L364.15 601.43 L364.80 602.89 L365.46 604.36 L366.12 605.82 L366.78 607.27 L367.45 608.73 L368.12 610.18 L368.79 611.64 L369.47 613.09 L370.16 614.53 L370.84 615.98 L371.54 617.43 L372.23 618.87 L372.93 620.31 L373.64 621.75 L374.35 623.18 L375.06 624.62 L375.78 626.05 L376.50 627.48 L377.23 628.90 L377.96 630.33 L378.69 631.75 L379.43 633.17 L380.18 634.59 L380.93 636.00 L381.68 637.42 L382.44 638.83 L383.20 640.23 L383.97 641.64 L384.74 643.04 L385.52 644.44 L386.30 645.84 L387.09 647.23 L387.88 648.63 L388.68 650.01 L389.48 651.40 L390.29 652.78 L391.10 654.16 L391.92 655.54 L392.74 656.92 L393.57 658.29 L394.40 659.66 L395.24 661.02 L396.08 662.38 L396.93 663.74 L397.78 665.10 L398.64 666.45 L399.50 667.80 L400.37 669.14 L401.24 670.49 L402.12 671.83 L403.01 673.16 L403.89 674.49 L404.79 675.82 L405.69 677.15 L406.60 678.47 L407.51 679.78 L408.42 681.10 L409.34 682.41 L410.27 683.71 L411.20 685.01 L412.14 686.31 L413.09 687.61 L414.03 688.90 L414.99 690.18 L415.95 691.46 L416.92 692.74 L417.89 694.01 L418.86 695.28 L419.85 696.55 L420.83 697.81 L421.83 699.06 L422.83 700.32 L423.83 701.56 L424.84 702.81 L425.86 704.04 L426.88 705.28 L427.91 706.51 L428.94 707.73 L429.98 708.95 L431.02 710.16 L432.07 711.37 L433.12 712.58 L434.19 713.78 L435.25 714.97 L436.32 716.16 L437.40 717.35 L438.48 718.53 L439.57 719.70 L440.67 720.87 L441.77 722.03 L442.87 723.19 L443.98 724.35 L445.10 725.50 L446.22 726.64 L447.35 727.78 L448.48 728.91 L449.62 730.03 L450.76 731.16 L451.91 732.27 L453.06 733.38 L454.22 734.49 L455.39 735.59 L456.56 736.68 L457.73 737.77 L458.92 738.85 L460.10 739.92 L461.29 740.99 L462.49 742.06 L463.69 743.12 L464.90 744.17 L466.11 745.22 L467.33 746.26 L468.55 747.29 L469.77 748.32 L471.01 749.35 L472.24 750.37 L473.48 751.38 L474.73 752.38 L475.98 753.38 L477.24 754.38 L478.50 755.36 L479.76 756.34 L481.03 757.32 L482.31 758.29 L483.59 759.25 L484.87 760.21 L486.16 761.16 L487.45 762.11 L488.75 763.05 L490.05 763.98 L491.36 764.91 L492.67 765.83 L493.98 766.74 L495.30 767.65 L496.62 768.55 L497.95 769.45 L499.28 770.34 L500.61 771.22 L501.95 772.10 L503.30 772.98 L504.64 773.84 L505.99 774.70 L507.35 775.56 L508.71 776.41 L510.07 777.25 L511.43 778.08 L512.80 778.91 L514.18 779.74 L515.55 780.56 L516.93 781.37 L518.32 782.18 L519.70 782.98 L521.09 783.77 L522.49 784.56 L523.88 785.35 L525.28 786.12 L526.69 786.90 L528.09 787.66 L529.50 788.42 L530.91 789.18 L532.33 789.93 L533.75 790.67 L535.17 791.41 L536.59 792.14 L538.02 792.87 L539.45 793.59 L540.88 794.30 L542.32 795.01 L543.76 795.72 L545.20 796.42 L546.64 797.11 L548.09 797.80 L549.54 798.48 L550.99 799.16 L552.44 799.83 L553.89 800.50 L555.35 801.16 L556.81 801.82 L558.28 802.47 L559.74 803.12 L561.21 803.76 L562.68 804.40 L564.15 805.03 L565.62 805.66 L567.10 806.28 L568.58 806.90 L570.06 807.51 L571.54 808.11 L573.02 808.72 L574.51 809.31 L576.00 809.91 L577.49 810.50 L578.98 811.08 L580.47 811.66 L581.96 812.23 L583.46 812.80 L584.96 813.37 L586.46 813.93 L587.96 814.49 L589.46 815.04 L590.97 815.58 L592.48 816.13 L593.98 816.67 L595.49 817.20 L597.00 817.73 L598.52 818.26 L600.03 818.78 L601.55 819.30 L603.06 819.81 L604.58 820.32 L606.10 820.83 L607.62 821.33 L609.14 821.83 L610.67 822.32 L612.19 822.81 L613.72 823.29 L615.25 823.78 L616.77 824.26 L618.30 824.73 L619.83 825.20 L621.37 825.67 L622.90 826.13 L624.43 826.59 L625.97 827.05 L627.50 827.50 L629.04 827.95 L630.58 828.39 L632.12 828.84 L633.66 829.27 L635.20 829.71 L636.74 830.14 L638.29 830.57 L639.83 830.99 L641.37 831.41 L642.92 831.83 L644.47 832.25 L646.01 832.66 L647.56 833.07 L649.11 833.47 L650.66 833.88 L652.21 834.28 L653.76 834.67 L655.32 835.07 L656.87 835.46 L658.42 835.84 L659.98 836.23 L661.53 836.61 L663.09 836.99 L664.65 837.36 L666.21 837.73 L667.76 838.10 L669.32 838.47 L670.88 838.83 L672.44 839.20 L674.00 839.55 L675.56 839.91 L677.13 840.26 L678.69 840.61 L680.25 840.96 L681.82 841.31 L683.38 841.65 L684.94 841.99 L686.51 842.33 L688.08 842.66 L689.64 842.99 L691.21 843.32 L692.78 843.65 L694.35 843.98 L695.91 844.30 L697.48 844.62 L699.05 844.94 L700.62 845.25 L702.19 845.57 L703.76 845.88 L705.34 846.19 L706.91 846.49 L708.48 846.80 L710.05 847.10 L711.63 847.40 L713.20 847.70 L714.77 847.99 L716.35 848.29 L717.92 848.58 L719.50 848.87 L721.07 849.16 L722.65 849.44 L724.22 849.72 L725.80 850.00 L727.38 850.28 L728.96 850.56 L730.53 850.84 L732.11 851.11 L733.69 851.38 L735.27 851.65 L736.85 851.92 L738.43 852.18 L740.01 852.44 L741.59 852.71 L743.17 852.97 L744.75 853.22 L746.33 853.48 L747.91 853.74 L749.49 853.99 L751.07 854.24 L752.65 854.49 L754.24 854.74 L755.82 854.98 L757.40 855.23 L758.98 855.47 L760.57 855.71 L762.15 855.95 L763.73 856.19 L765.32 856.42 L766.90 856.66 L768.49 856.89 L770.07 857.12 L771.66 857.35 L773.24 857.58 L774.83 857.80 L776.41 858.03 L778.00 858.25 L779.58 858.47 L781.17 858.69 L782.76 858.91 L784.34 859.13 L785.93 859.35 L787.52 859.56 L789.10 859.77 L790.69 859.99 L792.28 860.20 L793.87 860.41 L795.45 860.61 L797.04 860.82 L798.63 861.02 L800.22 861.23 L801.81 861.43 L803.40 861.63 L804.99 861.83 L806.58 862.03 L808.16 862.23 L809.75 862.42 L811.34 862.62 L812.93 862.81 L814.52 863.00 L816.11 863.19 L817.70 863.38 L819.29 863.57 L820.88 863.76 L822.47 863.94 L824.07 864.13 L825.66 864.31 L827.25 864.49 L828.84 864.68 L830.43 864.86 L832.02 865.03 L833.61 865.21 L835.20 865.39 L836.00 865.48" stroke="#000" stroke-linecap="butt"/>
<path d="M382.08 404.00 L382.51 405.54 L382.95 407.08 L383.39 408.62 L383.83 410.16 L384.27 411.70 L384.72 413.24 L385.16 414.77 L385.61 416.31 L386.06 417.85 L386.52 419.38 L386.97 420.92 L387.43 422.45 L387.89 423.99 L388.35 425.52 L388.81 427.05 L389.28 428.58 L389.74 430.11 L390.21 431.65 L390.68 433.18 L391.16 434.71 L391.63 436.23 L392.11 437.76 L392.59 439.29 L393.07 440.82 L393.55 442.34 L394.04 443.87 L394.52 445.39 L395.01 446.92 L395.51 448.44 L396.00 449.97 L396.50 451.49 L397.00 453.01 L397.50 454.53 L398.00 456.05 L398.51 457.57 L399.01 459.09 L399.52 460.60 L400.04 462.12 L400.55 463.64 L401.07 465.15 L401.59 466.67 L402.11 468.18 L402.64 469.69 L403.16 471.20 L403.69 472.72 L404.22 474.23 L404.76 475.74 L405.29 477.24 L405.83 478.75 L406.37 480.26 L406.92 481.76 L407.46 483.27 L408.01 484.77 L408.57 486.28 L409.12 487.78 L409.68 489.28 L410.24 490.78 L410.80 492.28 L411.36 493.78 L411.93 495.27 L412.50 496.77 L413.07 498.26 L413.65 499.76 L414.23 501.25 L414.81 502.74 L415.39 504.23 L415.98 505.72 L416.57 507.21 L417.16 508.70 L417.76 510.19 L418.35 511.67 L418.96 513.15 L419.56 514.64 L420.17 516.12 L420.78 517.60 L421.39 519.08 L422.00 520.56 L422.62 522.03 L423.24 523.51 L423.87 524.98 L424.50 526.46 L425.13 527.93 L425.76 529.40 L426.40 530.87 L427.04 532.33 L427.68 533.80 L428.33 535.27 L428.98 536.73 L429.63 538.19 L430.29 539.65 L430.95 541.11 L431.61 542.57 L432.27 544.02 L432.94 545.48 L433.61 546.93 L434.29 548.38 L434.97 549.83 L435.65 551.28 L436.34 552.73 L437.03 554.17 L437.72 555.62 L438.42 557.06 L439.11 558.50 L439.82 559.94 L440.52 561.37 L441.23 562.81 L441.95 564.24 L442.67 565.67 L443.39 567.10 L444.11 568.53 L444.84 569.96 L445.57 571.38 L446.31 572.80 L447.04 574.22 L447.79 575.64 L448.53 577.06 L449.28 578.47 L450.04 579.89 L450.79 581.30 L451.56 582.70 L452.32 584.11 L453.09 585.51 L453.86 586.92 L454.64 588.32 L455.42 589.71 L456.21 591.11 L456.99 592.50 L457.79 593.89 L458.58 595.28 L459.38 596.67 L460.19 598.05 L461.00 599.44 L461.81 600.82 L462.63 602.19 L463.45 603.57 L464.27 604.94 L465.10 606.31 L465.93 607.68 L466.77 609.04 L467.61 610.40 L468.46 611.76 L469.31 613.12 L470.16 614.47 L471.02 615.83 L471.88 617.18 L472.75 618.52 L473.62 619.86 L474.49 621.21 L475.37 622.54 L476.26 623.88 L477.15 625.21 L478.04 626.54 L478.94 627.87 L479.84 629.19 L480.74 630.51 L481.65 631.83 L482.57 633.14 L483.48 634.45 L484.41 635.76 L485.34 637.07 L486.27 638.37 L487.20 639.67 L488.15 640.96 L489.09 642.25 L490.04 643.54 L491.00 644.83 L491.95 646.11 L492.92 647.39 L493.89 648.66 L494.86 649.94 L495.83 651.20 L496.82 652.47 L497.80 653.73 L498.79 654.99 L499.79 656.24 L500.79 657.49 L501.79 658.74 L502.80 659.98 L503.82 661.22 L504.83 662.46 L505.86 663.69 L506.88 664.92 L507.92 666.14 L508.95 667.36 L509.99 668.58 L511.04 669.79 L512.09 671.00 L513.14 672.20 L514.20 673.40 L515.27 674.60 L516.33 675.79 L517.41 676.98 L518.48 678.17 L519.57 679.35 L520.65 680.52 L521.74 681.69 L522.84 682.86 L523.94 684.02 L525.05 685.18 L526.16 686.34 L527.27 687.49 L528.39 688.63 L529.51 689.77 L530.64 690.91 L531.77 692.04 L532.91 693.17 L534.05 694.29 L535.19 695.41 L536.34 696.53 L537.49 697.64 L538.65 698.74 L539.82 699.84 L540.98 700.94 L542.15 702.03 L543.33 703.12 L544.51 704.20 L545.69 705.28 L546.88 706.35 L548.08 707.42 L549.27 708.48 L550.47 709.54 L551.68 710.59 L552.89 711.64 L554.10 712.69 L555.32 713.72 L556.54 714.76 L557.77 715.79 L559.00 716.81 L560.24 717.83 L561.47 718.85 L562.72 719.86 L563.96 720.86 L565.21 721.86 L566.47 722.86 L567.73 723.85 L568.99 724.83 L570.25 725.81 L571.52 726.79 L572.80 727.76 L574.08 728.72 L575.36 729.68 L576.64 730.64 L577.93 731.59 L579.22 732.53 L580.52 733.47 L581.82 734.41 L583.12 735.34 L584.43 736.26 L585.74 737.18 L587.05 738.10 L588.37 739.01 L589.69 739.91 L591.01 740.81 L592.34 741.71 L593.67 742.60 L595.01 743.48 L596.34 744.36 L597.69 745.24 L599.03 746.11 L600.38 746.97 L601.73 747.83 L603.08 748.69 L604.44 749.54 L605.80 750.38 L607.16 751.22 L608.53 752.06 L609.90 752.89 L611.27 753.71 L612.64 754.53 L614.02 755.35 L615.40 756.16 L616.78 756.96 L618.17 757.77 L619.56 758.56 L620.95 759.35 L622.35 760.14 L623.74 760.92 L625.14 761.70 L626.55 762.47 L627.95 763.24 L629.36 764.00 L630.77 764.76 L632.18 765.51 L633.60 766.26 L635.02 767.00 L636.44 767.74 L637.86 768.47 L639.28 769.20 L640.71 769.93 L642.14 770.65 L643.57 771.37 L645.01 772.08 L646.44 772.78 L647.88 773.49 L649.32 774.18 L650.77 774.88 L652.21 775.57 L653.66 776.25 L655.11 776.93 L656.56 777.61 L658.01 778.28 L659.47 778.94 L660.93 779.61 L662.39 780.26 L663.85 780.92 L665.31 781.57 L666.78 782.21 L668.24 782.85 L669.71 783.49 L671.18 784.12 L672.66 784.75 L674.13 785.38 L675.61 786.00 L677.08 786.61 L678.56 787.23 L680.04 787.83 L681.53 788.44 L683.01 789.04 L684.50 789.64 L685.99 790.23 L687.47 790.82 L688.96 791.40 L690.46 791.98 L691.95 792.56 L693.45 793.13 L694.94 793.70 L696.44 794.26 L697.94 794.83 L699.44 795.38 L700.94 795.94 L702.45 796.49 L703.95 797.04 L705.46 797.58 L706.96 798.12 L708.47 798.65 L709.98 799.19 L711.49 799.71 L713.01 800.24 L714.52 800.76 L716.03 801.28 L717.55 801.79 L719.07 802.31 L720.59 802.81 L722.11 803.32 L723.63 803.82 L725.15 804.32 L726.67 804.81 L728.19 805.30 L729.72 805.79 L731.25 806.28 L732.77 806.76 L734.30 807.24 L735.83 807.71 L737.36 808.18 L738.89 808.65 L740.42 809.12 L741.95 809.58 L743.49 810.04 L745.02 810.50 L746.56 810.95 L748.09 811.40 L749.63 811.85 L751.17 812.29 L752.71 812.74 L754.25 813.17 L755.79 813.61 L757.33 814.04 L758.87 814.47 L760.42 814.90 L761.96 815.32 L763.50 815.75 L765.05 816.17 L766.59 816.58 L768.14 817.00 L769.69 817.41 L771.24 817.81 L772.79 818.22 L774.34 818.62 L775.89 819.02 L777.44 819.42 L778.99 819.81 L780.54 820.21 L782.09 820.60 L783.65 820.98 L785.20 821.37 L786.76 821.75 L788.31 822.13 L789.87 822.51 L791.42 822.88 L792.98 823.26 L794.54 823.63 L796.10 823.99 L797.66 824.36 L799.21 824.72 L800.77 825.08 L802.34 825.44 L803.90 825.80 L805.46 826.15 L807.02 826.50 L808.58 826.85 L810.15 827.20 L811.71 827.54 L813.27 827.89 L814.84 828.23 L816.40 828.56 L817.97 828.90 L819.53 829.24 L821.10 829.57 L822.67 829.90 L824.23 830.22 L825.80 830.55 L827.37 830.87 L828.94 831.20 L830.51 831.52 L832.08 831.83 L833.64 832.15 L835.21 832.46 L836.00 832.62" stroke="#000" stroke-dasharray="9.80 15.31" stroke-dashoffset="17.90"/>
</g>
<text x="183.5" y="411.6" font-size="24.6" text-anchor="end">300</text>
<text x="183.5" y="621.1" font-size="24.6" text-anchor="end">250</text>
<text x="183.5" y="830.6" font-size="24.6" text-anchor="end">200</text>
<text x="320.3" y="980.5" font-size="24.6" text-anchor="middle">100</text>
<text x="568.6" y="980.5" font-size="24.6" text-anchor="middle">200</text>
<text x="817.0" y="980.5" font-size="24.6" text-anchor="middle">300</text>
<text class="ser" x="542.4" y="1029.7" font-size="31">&#915;</text>
<text x="560.7" y="1039.6" font-size="18">jet,2</text>
<g transform="translate(95.85,699.7) rotate(-90)"><text x="0" y="0" font-size="31" font-style="italic">t</text><text x="8.1" y="10.25" font-size="18">b</text></g>
<path d="M664.1 437.7 h13.5 M690.2 437.7 h13.3" stroke="#000" stroke-width="1.5" fill="none"/><path d="M683.4 437.7 h0.2 M709.9 437.7 h0.2" stroke="#000" stroke-width="2.9" stroke-linecap="round" fill="none"/>
<text class="ser" x="715.7" y="444.5" font-size="25.5">:</text>
<text class="ser" x="728.0" y="444.3" font-size="26" font-style="italic">E</text>
<text class="ser" x="744.0" y="451.0" font-size="14">k,0</text>
<path d="M769.8 435.4 h13.8 M769.8 439.7 h13.8" stroke="#000" stroke-width="1.6" fill="none"/>
<text class="ser" x="788.4" y="444.5" font-size="26" letter-spacing="-0.25">8.8</text>
<text class="ser" x="821.2" y="446.1" font-size="25.5">&#215;10</text>
<path d="M663.5 481.7 h50.8" stroke="#000" stroke-width="1.5" fill="none"/>
<text class="ser" x="718.5" y="489.1" font-size="25.5">:</text>
<text class="ser" x="728.7" y="489.3" font-size="26" font-style="italic">E</text>
<text class="ser" x="744.3" y="496.0" font-size="14">k,0</text>
<path d="M770.7 480.4 h13.8 M770.7 484.7 h13.8" stroke="#000" stroke-width="1.6" fill="none"/>
<text class="ser" x="789.2" y="489.5" font-size="26" letter-spacing="-0.25">8.8</text>
<text class="ser" x="821.2" y="491.1" font-size="25.5">&#215;10</text>
<path d="M664.1 526.8 h13.5 M682.1 526.8 h13.4 M700.1 526.8 h13.5" stroke="#000" stroke-width="1.5" fill="none"/>
<text class="ser" x="718.5" y="533.6" font-size="25.5">:</text>
<text class="ser" x="729.3" y="533.8" font-size="26" font-style="italic">E</text>
<text class="ser" x="745.2" y="540.5" font-size="14">k,0</text>
<path d="M771.5 524.9 h13.8 M771.5 529.2 h13.8" stroke="#000" stroke-width="1.6" fill="none"/>
<text class="ser" x="790.0" y="534.0" font-size="26" letter-spacing="-0.25">8.8</text>
<text class="ser" x="822.0" y="535.6" font-size="25.5">&#215;10</text>
</svg>
</body></html>
